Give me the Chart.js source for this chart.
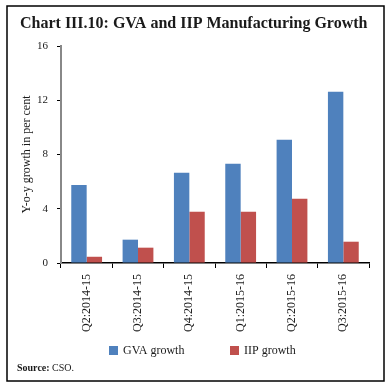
<!DOCTYPE html>
<html><head><meta charset="utf-8">
<script src="https://cdn.jsdelivr.net/npm/chart.js@4/dist/chart.umd.min.js"></script>
<style>html,body{margin:0;padding:0;background:#fff;}#wrap{width:392px;height:387px;position:relative;}</style>
</head><body>
<div id="wrap"><canvas id="c" width="392" height="387"></canvas></div>
<script>
const categories = ["Q2:2014-15","Q3:2014-15","Q4:2014-15","Q1:2015-16","Q2:2015-16","Q3:2015-16"];
const gvaGrowth = [5.75, 1.72, 6.66, 7.32, 9.09, 12.63];
const iipGrowth = [0.46, 1.13, 3.78, 3.78, 4.74, 1.57];
const yTicks = [0, 4, 8, 12, 16];

const SERIF = "'Liberation Serif', 'DejaVu Serif', serif";
const TEXT = '#1a1a1a';

const framePlugin = {
  id: 'frame',
  afterDraw(chart) {
    const ctx = chart.ctx;
    ctx.save();
    ctx.strokeStyle = '#000';
    ctx.lineWidth = 1.5;
    ctx.strokeRect(7, 6, 377, 375);
    ctx.fillStyle = TEXT;
    ctx.font = "bold 16px " + SERIF;
    ctx.textBaseline = 'middle';
    ctx.textAlign = 'left';
    ctx.fillText('Chart III.10: GVA and IIP Manufacturing Growth', 20, 24);
    // legend built from the chart's datasets
    const legendX = [109, 230];
    ctx.font = "12px " + SERIF;
    chart.data.datasets.forEach((ds, i) => {
      ctx.fillStyle = ds.backgroundColor;
      ctx.fillRect(legendX[i], 346, 9, 9);
      ctx.fillStyle = TEXT;
      ctx.fillText(ds.label, legendX[i] + 14, 351);
    });
    ctx.font = "bold 10px " + SERIF;
    ctx.fillText('Source:', 17, 368);
    const w = ctx.measureText('Source: ').width;
    ctx.font = "10px " + SERIF;
    ctx.fillText('CSO.', 17 + w, 368);
    ctx.restore();
  }
};

new Chart(document.getElementById('c'), {
  type: 'bar',
  data: {
    labels: categories,
    datasets: [
      { label: 'GVA growth', data: gvaGrowth, backgroundColor: '#4F81BD', categoryPercentage: 0.6, barPercentage: 1.0 },
      { label: 'IIP growth', data: iipGrowth, backgroundColor: '#C0504D', categoryPercentage: 0.6, barPercentage: 1.0 }
    ]
  },
  options: {
    responsive: false,
    animation: false,
    layout: { padding: { left: 18, right: 23, top: 46, bottom: 49 } },
    plugins: {
      title: { display: false },
      tooltip: { enabled: false },
      legend: { display: false }
    },
    scales: {
      x: {
        afterFit(scale) { scale.height = 75; },
        grid: { display: true, drawOnChartArea: false, color: '#000', tickLength: 5, offset: true },
        border: { display: true, color: '#000', width: 1.5 },
        ticks: { minRotation: 90, maxRotation: 90, color: TEXT, font: { family: SERIF, size: 12 }, padding: 6 }
      },
      y: {
        min: 0, max: 16,
        afterBuildTicks(scale) { scale.ticks = yTicks.map(v => ({ value: v })); },
        afterFit(scale) { scale.width = 43; },
        grid: { display: true, drawOnChartArea: false, color: '#000', tickLength: 4 },
        border: { display: true, color: '#888', width: 2 },
        ticks: { color: TEXT, font: { family: SERIF, size: 11 }, padding: 9 },
        title: { display: true, text: 'Y-o-y growth in per cent', color: TEXT, font: { family: SERIF, size: 12 }, padding: 2 }
      }
    }
  },
  plugins: [framePlugin]
});
</script>
</body></html>
